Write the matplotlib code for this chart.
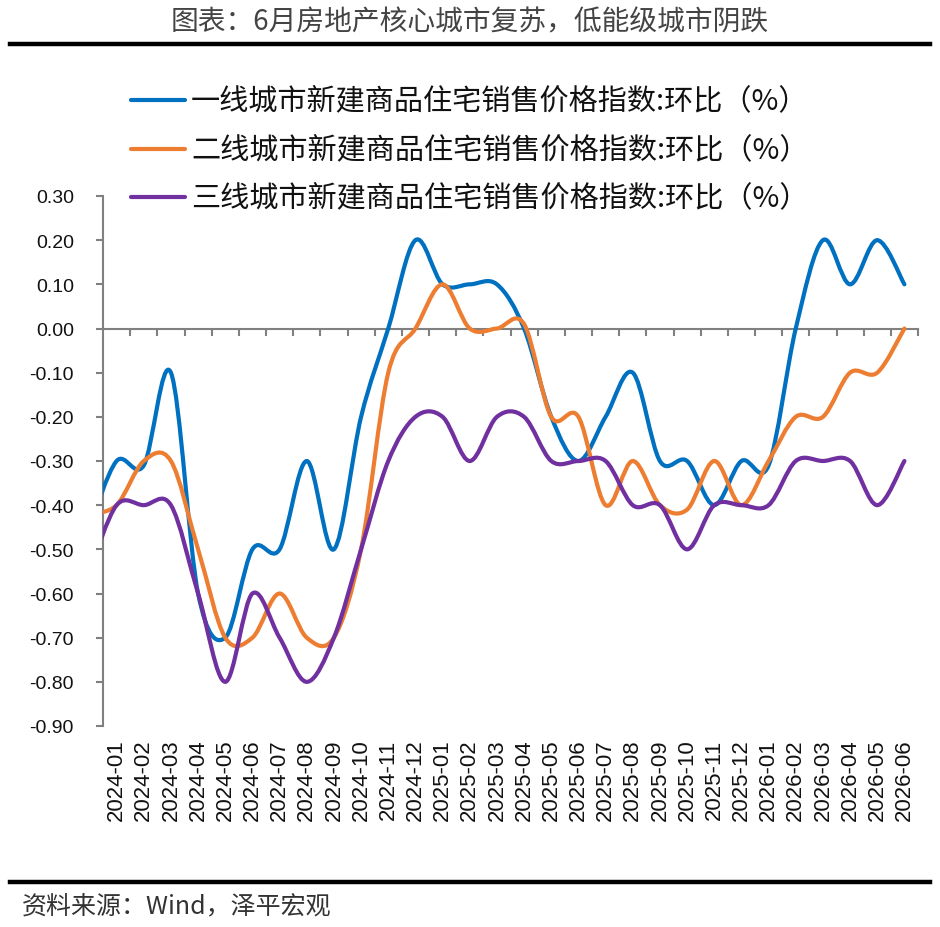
import numpy as np
import matplotlib
matplotlib.use('Agg')
import matplotlib.pyplot as plt
from matplotlib.path import Path
from matplotlib.patches import PathPatch
from matplotlib.lines import Line2D

plt.rcParams['font.family'] = ['Noto Sans CJK SC', 'DejaVu Sans']
plt.rcParams['axes.unicode_minus'] = False

# ---------------- data ----------------
# first entry (2023-12) is only partly visible at the left edge of the plot
months = ['2023-12',
          '2024-01', '2024-02', '2024-03', '2024-04', '2024-05', '2024-06',
          '2024-07', '2024-08', '2024-09', '2024-10', '2024-11', '2024-12',
          '2025-01', '2025-02', '2025-03', '2025-04', '2025-05', '2025-06',
          '2025-07', '2025-08', '2025-09', '2025-10', '2025-11', '2025-12',
          '2026-01', '2026-02', '2026-03', '2026-04', '2026-05', '2026-06']
tier1 = [-0.45,
         -0.30, -0.31, -0.10, -0.60, -0.70, -0.50, -0.50, -0.30, -0.50, -0.20, 0.00, 0.20,
         0.10, 0.10, 0.10, 0.00, -0.20, -0.30, -0.20, -0.10, -0.30, -0.30, -0.40, -0.30,
         -0.31, 0.00, 0.20, 0.10, 0.20, 0.10]
tier2 = [-0.42,
         -0.40, -0.30, -0.30, -0.50, -0.70, -0.70, -0.60, -0.70, -0.70, -0.50, -0.10, 0.00,
         0.10, 0.00, 0.00, 0.01, -0.20, -0.20, -0.40, -0.30, -0.40, -0.41, -0.30, -0.40,
         -0.30, -0.20, -0.20, -0.10, -0.10, 0.00]
tier3 = [-0.55,
         -0.40, -0.40, -0.40, -0.60, -0.80, -0.60, -0.70, -0.80, -0.70, -0.50, -0.30, -0.20,
         -0.20, -0.30, -0.20, -0.20, -0.30, -0.30, -0.30, -0.40, -0.40, -0.50, -0.40, -0.40,
         -0.40, -0.30, -0.30, -0.30, -0.40, -0.30]
series_names = ['一线城市新建商品住宅销售价格指数:环比（%）',
                '二线城市新建商品住宅销售价格指数:环比（%）',
                '三线城市新建商品住宅销售价格指数:环比（%）']
colors = ['#0070C0', '#ED7D31', '#7030A0']
yticks = [0.30, 0.20, 0.10, 0.00, -0.10, -0.20, -0.30, -0.40, -0.50, -0.60, -0.70, -0.80, -0.90]
ytick_labels = ['0.30', '0.20', '0.10', '0.00', '-0.10', '-0.20', '-0.30', '-0.40',
                '-0.50', '-0.60', '-0.70', '-0.80', '-0.90']
title = '图表：6月房地产核心城市复苏，低能级城市阴跌'
source = '资料来源：Wind，泽平宏观'


def smooth_path(xs, ys):
    pts = np.column_stack([xs, ys]).astype(float)
    n = len(pts)
    verts = [pts[0]]
    codes = [Path.MOVETO]
    for i in range(n - 1):
        p0 = pts[i - 1] if i > 0 else pts[i]
        p1 = pts[i]
        p2 = pts[i + 1]
        p3 = pts[i + 2] if i + 2 < n else pts[i + 1]
        c1 = p1 + (p2 - p0) / 6.0
        c2 = p2 - (p3 - p1) / 6.0
        verts += [c1, c2, p2]
        codes += [Path.CURVE4] * 3
    return Path(verts, codes)


W, H = 940, 928
fig = plt.figure(figsize=(W / 100, H / 100), dpi=100)
ax = fig.add_axes([103 / W, 1 - 727 / H, (918 - 103) / W, (727 - 197) / H])

x = np.arange(len(months)) - 1  # 2024-01 at 0
n_vis = len(months) - 1
for ys, c in zip([tier1, tier2, tier3], colors):
    patch = PathPatch(smooth_path(x, ys), facecolor='none', edgecolor=c,
                      lw=3.0, capstyle='round', joinstyle='round',
                      transform=ax.transData, zorder=3)
    ax.add_patch(patch)

ax.set_xlim(-0.5, n_vis - 0.5)
ax.set_ylim(-0.90, 0.30)

grey = '#808080'
for s in ['top', 'right', 'bottom']:
    ax.spines[s].set_visible(False)
ax.spines['left'].set_color(grey)
ax.spines['left'].set_linewidth(1.5)

ax.set_yticks(yticks)
ax.set_yticklabels(ytick_labels, family=['Liberation Sans', 'DejaVu Sans'],
                   fontsize=14, color='#111111')
ax.tick_params(axis='y', direction='out', length=5, width=1.5, color=grey, pad=16)

ax.set_xticks(np.arange(n_vis))
ax.set_xticklabels(months[1:], rotation=90, family=['Liberation Sans', 'DejaVu Sans'],
                   fontsize=16, color='#111111')
ax.tick_params(axis='x', length=0, pad=9)

# category axis drawn at y = 0 with tick marks between categories
zero_frac = (0 - (-0.90)) / (0.30 - (-0.90))
sec = ax.secondary_xaxis(zero_frac)
sec.set_alignment('bottom')
sec.set_xticks(np.arange(n_vis) + 0.5)
sec.set_xticklabels([''] * n_vis)
sec.tick_params(axis='x', direction='out', length=5, width=1.5, color=grey)
for s in sec.spines.values():
    s.set_color(grey)
    s.set_linewidth(1.5)

# legend
leg_y = [101, 150, 198]
for name, c, yy in zip(series_names, colors, leg_y):
    fig.add_artist(Line2D([131 / W, 185 / W], [1 - yy / H] * 2, color=c, lw=3.0,
                          solid_capstyle='round', transform=fig.transFigure))
    fig.text(191 / W, 1 - yy / H, name, fontsize=21, color='#111111',
             va='center', ha='left')

# title and rules
fig.text(470 / W, 1 - 22 / H, title, fontsize=20, color='#444444', weight='light',
         ha='center', va='center')
fig.add_artist(Line2D([10 / W, 930 / W], [1 - 45 / H] * 2, color='black', lw=3.2,
                      transform=fig.transFigure))
fig.add_artist(Line2D([10 / W, 930 / W], [1 - 883 / H] * 2, color='black', lw=3.2,
                      transform=fig.transFigure))
fig.text(22 / W, 1 - 907 / H, source, fontsize=18, color='#333333', style='italic',
         ha='left', va='center')

fig.savefig('out.png', dpi=100)
